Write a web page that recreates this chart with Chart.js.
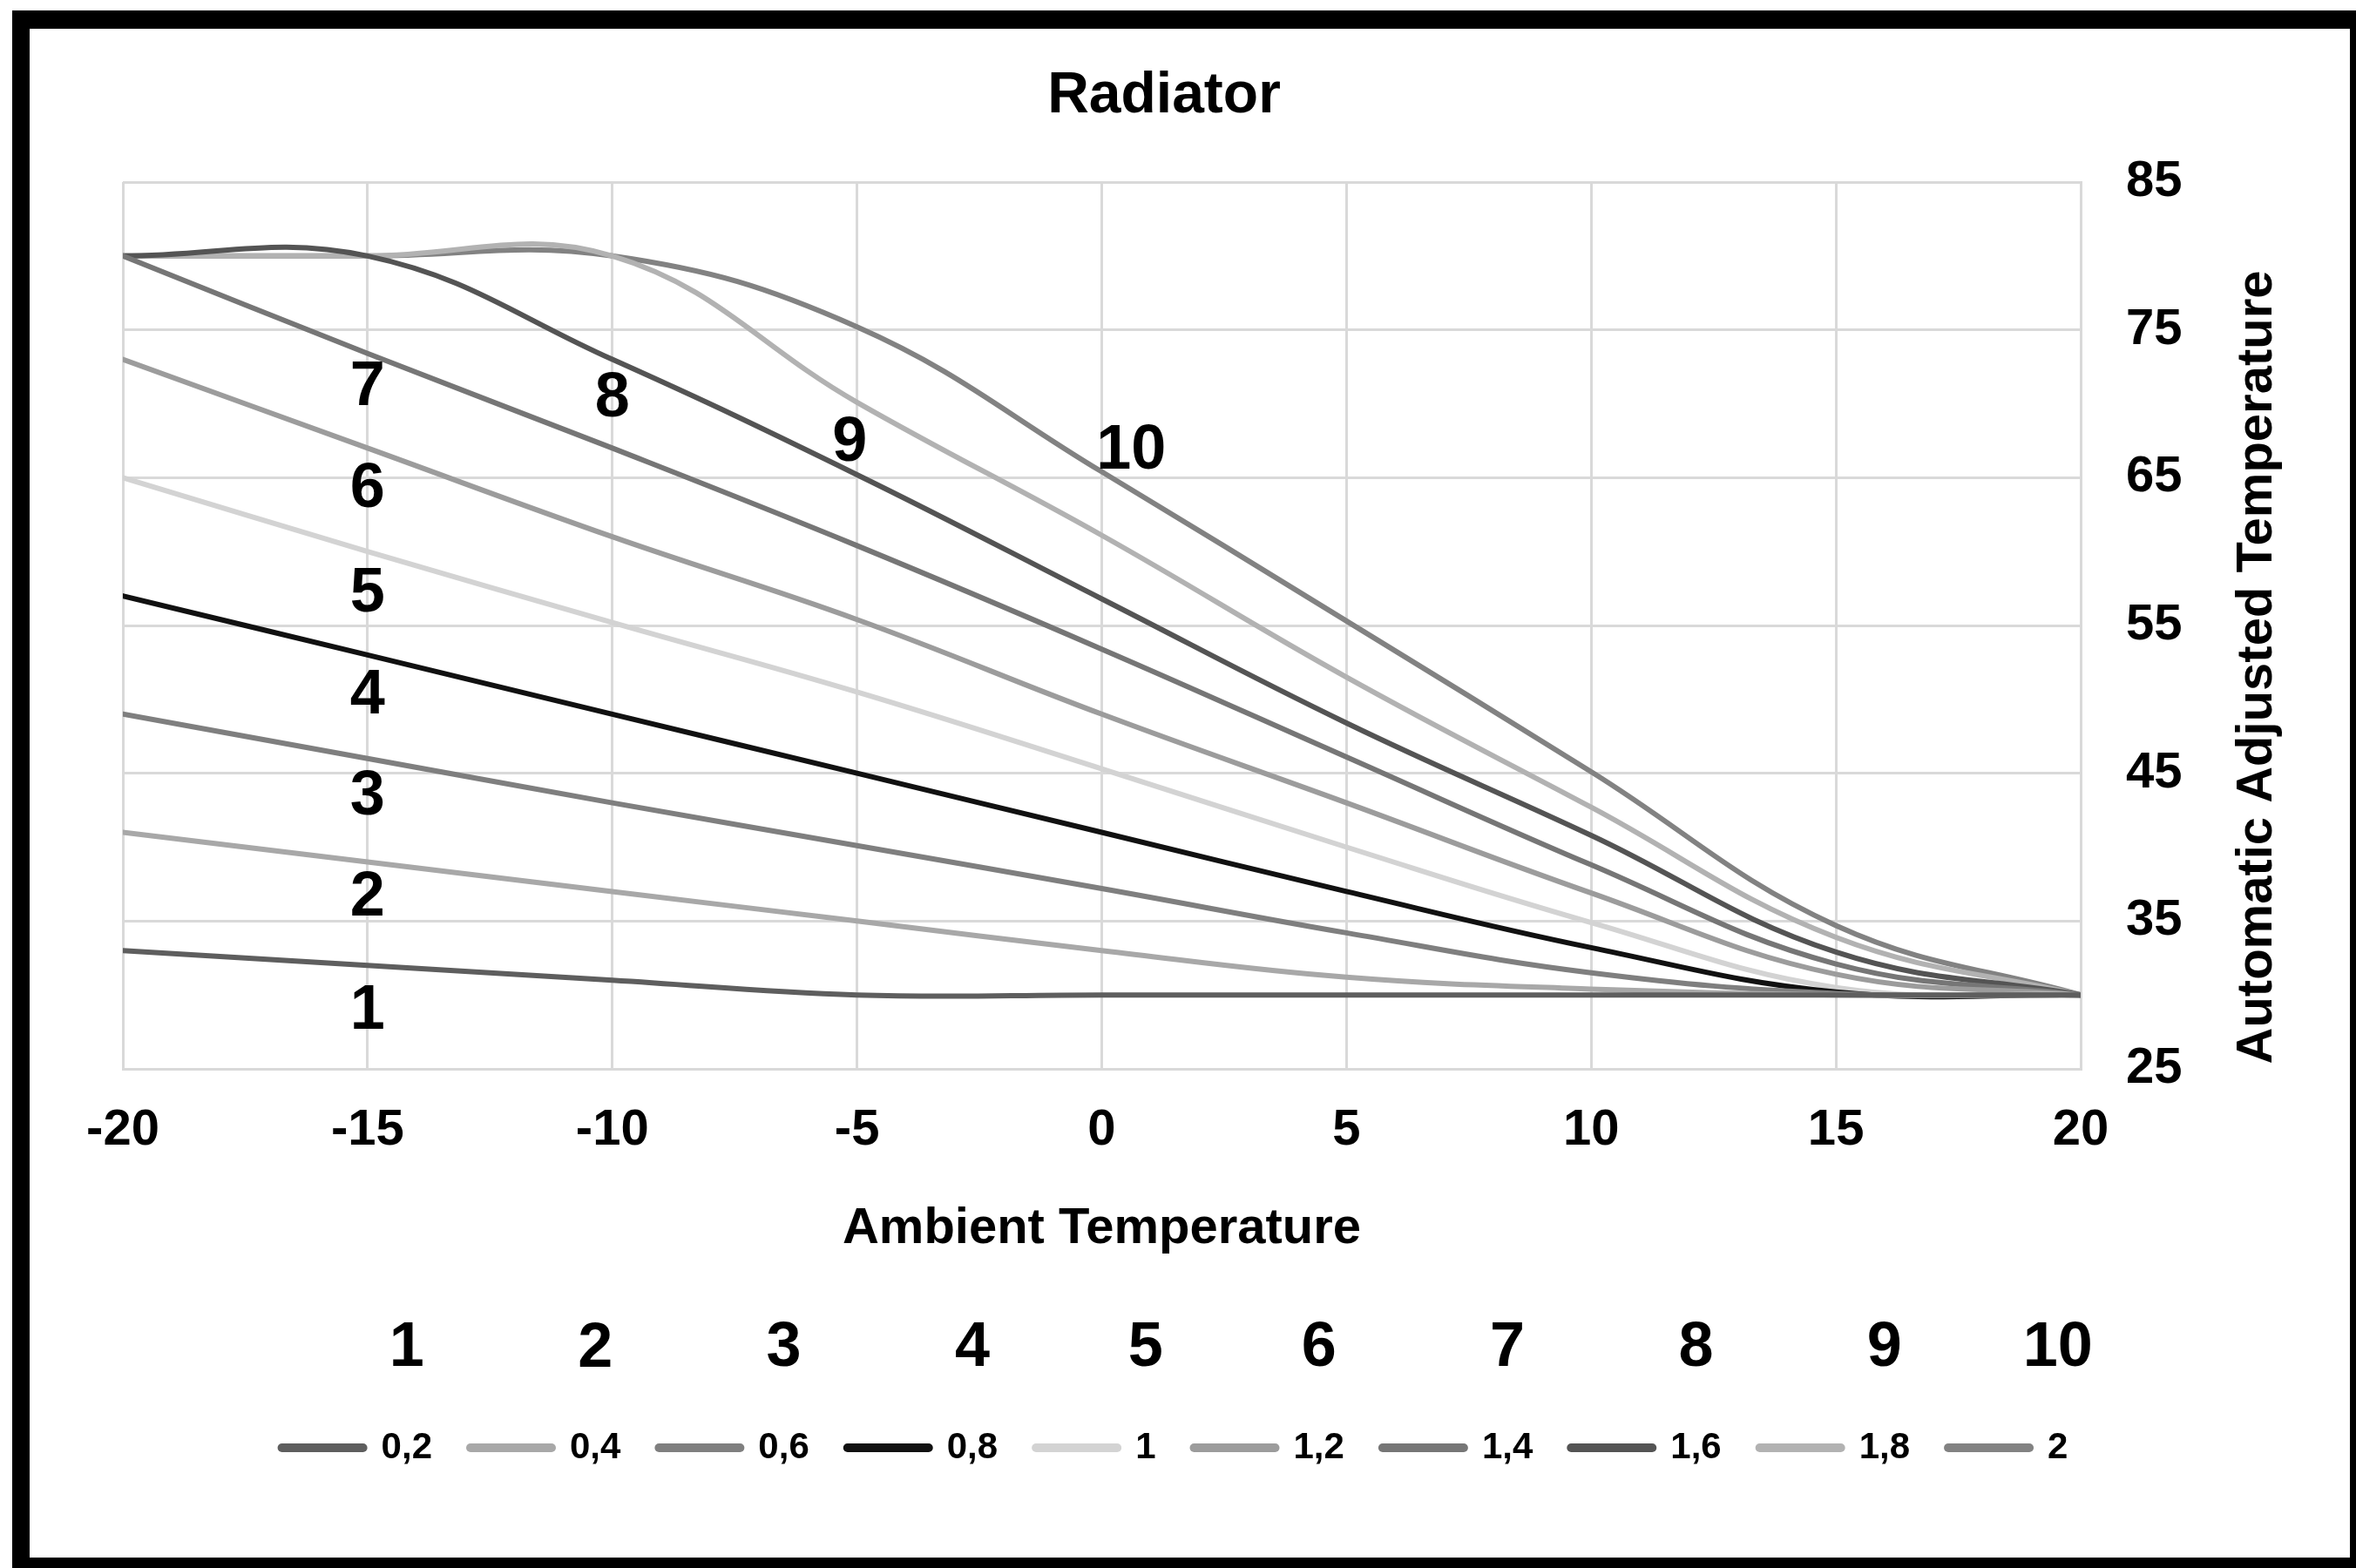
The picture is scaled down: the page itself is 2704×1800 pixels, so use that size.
<!DOCTYPE html>
<html>
<head>
<meta charset="utf-8">
<title>Radiator</title>
<script src="https://cdn.jsdelivr.net/npm/chart.js@4.4.1/dist/chart.umd.min.js"></script>
<style>
  html, body { margin: 0; padding: 0; background: #fff; }
  #wrap { position: relative; width: 2704px; height: 1800px; overflow: hidden; background: #fff; }
  #frame {
    position: absolute; left: 14px; top: 12px; width: 2690px; height: 1788px;
    box-sizing: border-box; border-style: solid; border-color: #000;
    border-width: 21px 7px 12px 20px; pointer-events: none;
  }
  canvas { position: absolute; left: 0; top: 0; }
</style>
</head>
<body>
<div id="wrap">
  <canvas id="chart" width="2704" height="1800"></canvas>
  <div id="frame"></div>
</div>
<script>
// Ambient temperature (°C) on the x axis
const ambient = [-20, -15, -10, -5, 0, 5, 10, 15, 20];

// Flow temperature for each heating-curve slope
const curve02 = [33, 32, 31, 30, 30, 30, 30, 30, 30];
const curve04 = [41, 39, 37, 35, 33, 31.2, 30.4, 30, 30];
const curve06 = [49, 46, 43, 40.1, 37.2, 34.2, 31.5, 30.1, 30];
const curve08 = [57, 53, 49, 45, 41, 37, 33.2, 30.2, 30];
const curve10 = [65, 60, 55.2, 50.5, 45.3, 40, 34.9, 30.5, 30];
const curve12 = [73, 67, 61, 55.4, 49, 43, 36.9, 31.4, 30];
const curve14 = [80, 73.4, 67, 60.4, 53.4, 46.1, 38.8, 32.1, 30];
const curve16 = [80, 80, 73, 65.2, 56.8, 48.4, 40.8, 32.9, 30];
const curve18 = [80, 80, 80, 70.1, 61.1, 51.5, 42.7, 33.9, 30];
const curve20 = [80, 80, 80, 75.2, 65.4, 55.3, 45.1, 34.7, 30];

const slopeNames = ['0,2', '0,4', '0,6', '0,8', '1', '1,2', '1,4', '1,6', '1,8', '2'];
const curveNumbers = ['1', '2', '3', '4', '5', '6', '7', '8', '9', '10'];
const curves = [curve02, curve04, curve06, curve08, curve10, curve12, curve14, curve16, curve18, curve20];
const lineColors = ['#5e5e5e', '#a8a8a8', '#7f7f7f', '#111111', '#d3d3d3',
                    '#9c9c9c', '#767676', '#545454', '#b2b2b2', '#828282'];

const chartTitle = 'Radiator';
const xTitle = 'Ambient Temperature';
const yTitle = 'Automatic Adjusted Temperature';

// Where each curve number sits inside the plot (ambient, flow temperature)
const numberAnchors = [[-15, 29.2], [-15, 36.9], [-15, 43.7], [-15, 50.5], [-15, 57.4],
                       [-15, 64.5], [-15, 71.4], [-10, 70.6], [-5.15, 67.6], [0.6, 67.1]];

const FONT = '"Liberation Sans", Arial, sans-serif';
const LEGEND_FONT = 42;
const LEGEND_BOX = 93;

Chart.defaults.font.family = FONT;
Chart.defaults.color = '#000';

const datasets = curves.map((vals, i) => ({
  label: slopeNames[i],
  data: vals.map((v, k) => ({ x: ambient[k], y: v })),
  borderColor: lineColors[i],
  backgroundColor: lineColors[i],
  borderWidth: 6,
  borderCapStyle: 'round',
  pointRadius: 0,
  pointHoverRadius: 0,
  tension: 0.4,
  fill: false
}));

function centerText(ctx, text, x, y) {
  const m = ctx.measureText(text);
  const asc = m.actualBoundingBoxAscent, desc = m.actualBoundingBoxDescent;
  ctx.fillText(text, x, y + (asc - desc) / 2);
}

const decorations = {
  id: 'decorations',
  afterDraw(chart) {
    const { ctx, scales: { x, y } } = chart;
    ctx.save();
    ctx.fillStyle = '#000';
    ctx.textAlign = 'center';
    ctx.textBaseline = 'alphabetic';

    // chart title
    ctx.font = 'bold 66px ' + FONT;
    ctx.fillText(chartTitle, 1336, 129);

    // right axis title
    ctx.save();
    ctx.font = 'bold 58px ' + FONT;
    ctx.translate(2592, 766);
    ctx.rotate(-Math.PI / 2);
    centerText(ctx, yTitle, 0, 0);
    ctx.restore();

    // curve numbers inside the plot
    ctx.font = 'bold 72px ' + FONT;
    numberAnchors.forEach((p, i) => {
      centerText(ctx, curveNumbers[i], x.getPixelForValue(p[0]), y.getPixelForValue(p[1]));
    });

    // curve numbers above the legend entries
    const legend = chart.legend;
    const boxes = legend.legendHitBoxes || [];
    ctx.font = 'bold ' + LEGEND_FONT + 'px ' + FONT;
    const textCenters = boxes.map((b, i) =>
      b.left + LEGEND_BOX + LEGEND_FONT / 2 + ctx.measureText(slopeNames[i]).width / 2);
    ctx.font = 'bold 72px ' + FONT;
    boxes.forEach((b, i) => {
      centerText(ctx, curveNumbers[i], textCenters[i], b.top + b.height / 2 - 119);
    });
    ctx.restore();
  }
};

new Chart(document.getElementById('chart'), {
  type: 'line',
  data: { datasets },
  plugins: [decorations],
  options: {
    responsive: false,
    animation: false,
    events: [],
    layout: { padding: { left: 141, top: 209, right: 148, bottom: 107 } },
    scales: {
      x: {
        type: 'linear',
        min: -20, max: 20,
        ticks: { stepSize: 5, padding: 36, font: { size: 58, weight: 'bold' }, color: '#000' },
        grid: { color: '#d9d9d9', lineWidth: 3, drawTicks: false },
        border: { color: '#d9d9d9', width: 3 },
        title: {
          display: true, text: xTitle,
          font: { size: 58, weight: 'bold' }, color: '#000',
          padding: { top: 0, bottom: 151 }
        },
        afterFit(scale) { scale.height = 370; }
      },
      y: {
        type: 'linear',
        position: 'right',
        min: 25, max: 85,
        ticks: { stepSize: 10, padding: 52, font: { size: 58, weight: 'bold' }, color: '#000' },
        grid: { color: '#d9d9d9', lineWidth: 3, drawTicks: false },
        border: { color: '#d9d9d9', width: 3 },
        afterFit(scale) { scale.width = 168; }
      }
    },
    plugins: {
      title: { display: false },
      tooltip: { enabled: false },
      legend: {
        display: true,
        position: 'bottom',
        labels: {
          usePointStyle: true,
          pointStyle: 'line',
          pointStyleWidth: LEGEND_BOX,
          padding: 44,
          color: '#000',
          font: { size: LEGEND_FONT, weight: 'bold' },
          generateLabels(chart) {
            const items = Chart.defaults.plugins.legend.labels.generateLabels(chart);
            items.forEach(it => { it.lineWidth = 10; it.lineCap = 'round'; it.pointStyle = 'line'; });
            return items;
          }
        }
      }
    }
  }
});
</script>
</body>
</html>
